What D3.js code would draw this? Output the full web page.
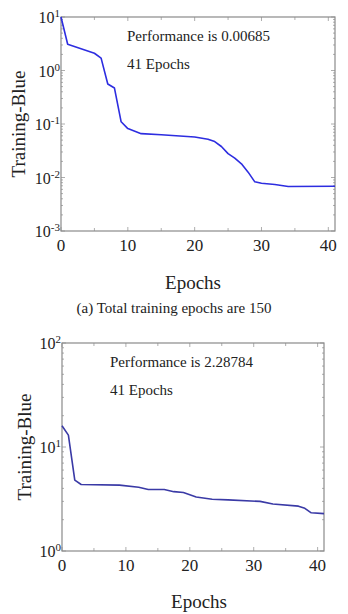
<!DOCTYPE html>
<html>
<head>
<meta charset="utf-8">
<script src="https://cdn.jsdelivr.net/npm/d3@7"></script>
<style>
  body { margin: 0; background: #fff; }
  svg text { font-family: "Liberation Serif", "Times New Roman", serif; fill: #222; }
</style>
</head>
<body>
<div id="chart"></div>
<script>
// ---- data ----
// chart (a)
var epochsA = [0, 1, 5, 6, 7, 8, 9, 10, 12, 15, 20, 22, 23, 24, 25, 26, 27, 28, 29, 30, 32, 34, 41];
var perfA = [10, 3.1, 2.1, 1.7, 0.56, 0.47, 0.11, 0.082, 0.066, 0.063, 0.057, 0.052, 0.047, 0.038, 0.028, 0.023, 0.018, 0.0126, 0.0083, 0.0078, 0.0074, 0.0068, 0.00685];
var yTicksA = [-3, -2, -1, 0, 1];
// chart (b)
var epochsB = [0, 1, 2, 3, 9, 12, 13.5, 16, 17.5, 19, 21, 23.5, 26, 31, 33, 37, 38, 39, 41];
var perfB = [16, 13, 4.8, 4.36, 4.3, 4.1, 3.9, 3.9, 3.72, 3.65, 3.3, 3.14, 3.1, 3.0, 2.83, 2.7, 2.57, 2.33, 2.28784];
var yTicksB = [0, 1, 2];
var xTicks = [0, 10, 20, 30, 40];

var svg = d3.select("#chart").append("svg")
    .attr("width", 348)
    .attr("height", 614)

function drawPanel(opt) {
    var x = d3.scaleLinear().domain([0, 41]).range([opt.left, opt.right]);
    var y = d3.scaleLog().domain([Math.pow(10, opt.yExp[0]), Math.pow(10, opt.yExp[opt.yExp.length - 1])])
        .range([opt.bottom, opt.top]);

    var g = svg.append("g");

    // minor ticks (log) on left and right
    var minor = [];
    for (var e = opt.yExp[0]; e < opt.yExp[opt.yExp.length - 1]; e++) {
        for (var m = 1; m < 10; m++) minor.push(m * Math.pow(10, e));
    }
    minor.push(Math.pow(10, opt.yExp[opt.yExp.length - 1]));
    minor.forEach(function (v) {
        var major = Math.abs(Math.log10(v) - Math.round(Math.log10(v))) < 1e-9;
        var len = major ? 4 : 2;
        g.append("line").attr("x1", opt.left).attr("x2", opt.left + len)
            .attr("y1", y(v)).attr("y2", y(v)).attr("stroke", "#999").attr("stroke-width", 0.8);
        g.append("line").attr("x1", opt.right).attr("x2", opt.right - len)
            .attr("y1", y(v)).attr("y2", y(v)).attr("stroke", "#999").attr("stroke-width", 0.8);
    })
    // x ticks every 5 top and bottom
    d3.range(0, 42, 5).forEach(function (t) {
        var len = t % 10 == 0 ? 4 : 3;
        g.append("line").attr("x1", x(t)).attr("x2", x(t))
            .attr("y1", opt.bottom).attr("y2", opt.bottom - len).attr("stroke", "#999").attr("stroke-width", 0.8);
        g.append("line").attr("x1", x(t)).attr("x2", x(t))
            .attr("y1", opt.top).attr("y2", opt.top + len).attr("stroke", "#999").attr("stroke-width", 0.8);
    })

    // frame
    g.append("rect")
        .attr("x", opt.left).attr("y", opt.top)
        .attr("width", opt.right - opt.left).attr("height", opt.bottom - opt.top)
        .attr("fill", "none").attr("stroke", "#8a8a8a").attr("stroke-width", 1.2);

    // y tick labels 10^n
    opt.yExp.forEach(function (e) {
        var t = g.append("text")
            .attr("x", opt.left - 1)
            .attr("y", y(Math.pow(10, e)) + 6)
            .attr("text-anchor", "end")
            .style("font-size", "16px");
        t.append("tspan").text("10");
        t.append("tspan").attr("dy", "-6").style("font-size", "11px").text(e);
    })

    // x tick labels
    xTicks.forEach(function (t) {
        g.append("text")
            .attr("x", x(t)).attr("y", opt.bottom + 20)
            .attr("text-anchor", "middle")
            .style("font-size", "17px")
            .text(t);
    })

    // line
    var line = d3.line()
        .x(function (d) { return x(d[0]); })
        .y(function (d) { return y(d[1]); });
    g.append("path")
        .datum(d3.zip(opt.xs, opt.ys))
        .attr("d", line)
        .attr("fill", "none")
        .attr("stroke", opt.color)
        .attr("stroke-width", 1.6)
        .attr("stroke-linejoin", "round");

    // annotations
    g.append("text").attr("x", opt.annX).attr("y", opt.annY)
        .style("font-size", "15px").text(opt.perfText);
    g.append("text").attr("x", opt.annX).attr("y", opt.annY + 28)
        .style("font-size", "15px").text("41 Epochs");

    // axis titles
    g.append("text")
        .attr("transform", "translate(" + opt.yLabelX + "," + ((opt.top + opt.bottom) / 2) + ") rotate(-90)")
        .attr("text-anchor", "middle")
        .style("font-size", "19px")
        .text("Training-Blue");
    g.append("text")
        .attr("x", opt.xLabelX).attr("y", opt.xLabelY)
        .attr("text-anchor", "middle")
        .style("font-size", "19px")
        .text("Epochs");
}

drawPanel({
    left: 61, right: 335, top: 17, bottom: 231,
    yExp: yTicksA, xs: epochsA, ys: perfA, color: "#2d2de0",
    annX: 127, annY: 41, perfText: "Performance is 0.00685",
    yLabelX: 25, xLabelX: 193, xLabelY: 289
})

svg.append("text")
    .attr("x", 174).attr("y", 313)
    .attr("text-anchor", "middle")
    .style("font-size", "15px")
    .text("(a) Total training epochs are 150");

drawPanel({
    left: 62, right: 324, top: 343, bottom: 551,
    yExp: yTicksB, xs: epochsB, ys: perfB, color: "#3a3aa6",
    annX: 110, annY: 367, perfText: "Performance is 2.28784",
    yLabelX: 31, xLabelX: 199, xLabelY: 608
})
</script>
</body>
</html>
